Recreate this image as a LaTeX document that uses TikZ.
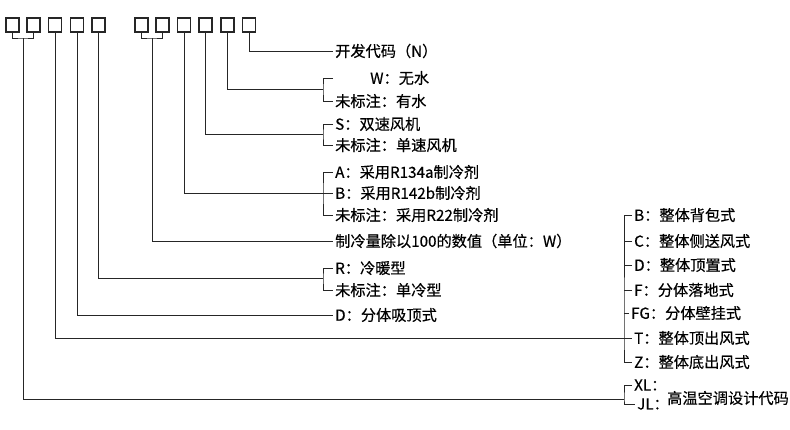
\documentclass[tikz,border=0pt]{standalone}
\usepackage{fontspec}
\setmainfont{Noto Sans CJK SC}[FakeBold=0.4]

\begin{document}
\begin{tikzpicture}[
    x = 1pt, y = -1pt,
    digit/.style = {
        draw = black!85,
        line width = 1.2pt,
        minimum width = 13pt,
        minimum height = 14pt,
        inner sep = 0pt
    },
    entry/.style = {
        anchor = west,
        inner sep = 2pt,
        font = \fontsize{15.2pt}{18pt}\selectfont
    },
    wire/.style = {line width = 1pt, draw = black!85}
]

\useasboundingbox (0,0) rectangle (790,429);

% Code boxes
\node[digit] (b1) at (12.5,25) {};
\node[digit] (b2) at (33.5,25) {};
\node[digit] (b3) at (55,25) {};
\node[digit] (b4) at (77,25) {};
\node[digit] (b5) at (98.5,25) {};
\node[digit] (b6) at (141.5,25) {};
\node[digit] (b7) at (162.5,25) {};
\node[digit] (b8) at (184,25) {};
\node[digit] (b9) at (205.5,25) {};
\node[digit] (b10) at (227.5,25) {};
\node[digit] (b11) at (249,25) {};

% Joints and bracket corners
\coordinate (j12) at (23,38);
\coordinate (j67) at (152,38);
\coordinate (k10) at (323,89);
\coordinate (k9) at (323,134);
\coordinate (k8) at (323,193);
\coordinate (k5) at (323,278);
\coordinate (k3) at (624,338);
\coordinate (k12) at (624,399);
\coordinate (ws0) at (333,78);

% Left side entries
\node[entry] (kf) at (333,51) {开发代码（N）};
\node[entry] (ws) at (368,78) {W：无水};
\node[entry] (ys) at (333,101) {未标注：有水};
\node[entry] (ss) at (333,124) {S：双速风机};
\node[entry] (ds) at (333,145) {未标注：单速风机};
\node[entry] (ra) at (333,172) {A：采用R134a制冷剂};
\node[entry] (rb) at (333,193) {B：采用R142b制冷剂};
\node[entry] (rc) at (333,215) {未标注：采用R22制冷剂};
\node[entry] (cap) at (333,241) {制冷量除以100的数值（单位：W）};
\node[entry] (rl) at (333,268) {R：冷暖型};
\node[entry] (dl) at (333,290) {未标注：单冷型};
\node[entry] (dx) at (333,315) {D：分体吸顶式};

% Right side entries
\node[entry] (bb) at (632,215) {B：整体背包式};
\node[entry] (cc) at (632,241) {C：整体侧送风式};
\node[entry] (dd) at (632,265) {D：整体顶置式};
\node[entry] (ff) at (632,290) {F：分体落地式};
\node[entry] (fg) at (629,313) {FG：分体壁挂式};
\node[entry] (tt) at (632,338) {T：整体顶出风式};
\node[entry] (zz) at (632,362) {Z：整体底出风式};
\node[entry] (xl) at (632,385) {XL：};
\node[entry] (jl) at (635,404) {JL：};
\node[entry] (gw) at (665,398) {高温空调设计代码};

% Box pairs
\draw[wire] (b1.south) |- (j12) -| (b2.south);
\draw[wire] (b6.south) |- (j67) -| (b7.south);

% Leads from the boxes
\draw[wire] (b11.south) |- (kf.west);
\draw[wire] (b10.south) |- (k10);
\draw[wire] (b9.south) |- (k9);
\draw[wire] (b8.south) |- (rb.west);
\draw[wire] (j67) |- (cap.west);
\draw[wire] (b5.south) |- (k5);
\draw[wire] (b4.south) |- (dx.west);
\draw[wire] (b3.south) |- (tt.west);
\draw[wire] (j12) |- (k12);

% Brackets
\draw[wire] (ws0) -| (k10) |- (ys.west);
\draw[wire] (ss.west) -| (k9) |- (ds.west);
\draw[wire] (ra.west) -| (k8) |- (rc.west);
\draw[wire] (rl.west) -| (k5) |- (dl.west);
\draw[wire] (bb.west) -| (k3) |- (zz.west);
\draw[wire] (cc.west) -- (cc.west -| k3);
\draw[wire] (dd.west) -- (dd.west -| k3);
\draw[wire] (ff.west) -- (ff.west -| k3);
\draw[wire] (fg.west) -- (fg.west -| k3);
\draw[wire] (xl.west) -| (k12) |- (jl.west);

\end{tikzpicture}
\end{document}
